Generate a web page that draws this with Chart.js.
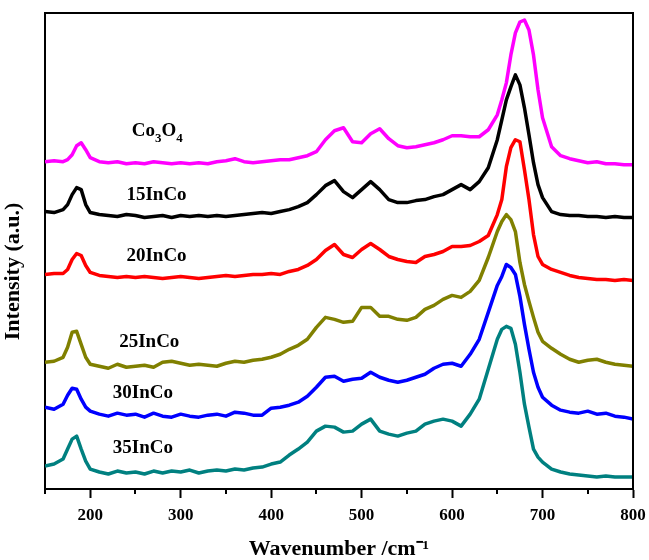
<!DOCTYPE html>
<html>
<head>
<meta charset="utf-8">
<script src="https://cdn.jsdelivr.net/npm/chart.js@4"></script>
<style>
  html, body { margin: 0; padding: 0; background: #fff; }
</style>
</head>
<body>
<canvas id="raman" width="649" height="560"></canvas>
<script>
// Raman shift (cm-1), shared by all spectra
const wavenumbers = [150, 160, 170, 175, 180, 185, 190, 195, 200,
  210, 220, 230, 240, 250, 260, 270, 280, 290, 300,
  310, 320, 330, 340, 350, 360, 370, 380, 390, 400,
  410, 420, 430, 440, 450, 460, 470, 480, 490, 500,
  510, 520, 530, 540, 550, 560, 570, 580, 590, 600,
  610, 620, 630, 640, 650,
  655, 660, 665, 670, 675, 680, 685, 690, 695, 700,
  710, 720, 730, 740, 750, 760, 770, 780, 790, 800];

// intensities (a.u., already stacked with offsets as in the figure)
const co3o4 = [328, 329, 328, 330, 335, 344, 347, 340, 332,
  328, 327, 328, 326, 327, 326, 328, 327, 326, 327,
  326, 327, 326, 328, 329, 331, 328, 327, 328, 329,
  330, 330, 332, 334, 338, 350, 359, 362, 348, 347,
  356, 361, 351, 344, 342, 343, 345, 347, 350, 354,
  354, 353, 353, 360, 375,
  390, 407, 435, 457, 468, 470, 460, 435, 400, 372,
  343, 334, 331, 329, 327, 328, 326, 326, 325, 325];
const inco15 = [278, 277, 280, 285, 295, 302, 300, 285, 277,
  275, 274, 273, 275, 274, 272, 273, 274, 272, 274,
  273, 274, 273, 274, 273, 274, 275, 276, 277, 276,
  278, 280, 283, 287, 295, 304, 309, 298, 292, 300,
  308, 300, 290, 287, 287, 289, 290, 293, 295, 300,
  305, 300, 308, 322, 350,
  370, 390, 403, 415, 405, 382, 355, 327, 305, 292,
  278, 275, 274, 274, 273, 273, 272, 273, 272, 272];
const inco20 = [215, 216, 216, 220, 230, 236, 234, 224, 217,
  214, 213, 212, 213, 212, 213, 212, 211, 212, 213,
  212, 211, 212, 213, 214, 213, 214, 215, 215, 216,
  215, 218, 220, 224, 230, 239, 245, 235, 232, 240,
  246, 240, 233, 230, 228, 227, 233, 235, 238, 243,
  243, 244, 248, 254, 275,
  290, 323, 342, 350, 348, 320, 290, 255, 233, 225,
  220, 217, 214, 212, 211, 210, 210, 209, 210, 209];
const inco25 = [127, 128, 132, 142, 157, 158, 145, 132, 125,
  123, 121, 125, 122, 123, 124, 122, 127, 128, 126,
  124, 125, 124, 123, 126, 128, 127, 129, 130, 132,
  135, 140, 144, 150, 162, 172, 170, 167, 168, 182,
  182, 173, 173, 170, 169, 172, 180, 184, 190, 194,
  192, 198, 209, 232, 258,
  268, 275, 270, 258, 227, 205, 188, 172, 157, 148,
  141, 135, 130, 127, 129, 130, 127, 125, 124, 123];
const inco30 = [82, 80, 85, 94, 101, 100, 90, 82, 78,
  75, 73, 76, 74, 75, 72, 76, 73, 72, 75,
  73, 72, 74, 75, 73, 77, 76, 74, 74, 81,
  82, 84, 87, 93, 102, 112, 113, 108, 110, 111,
  117, 112, 109, 107, 109, 112, 115, 121, 125, 126,
  123, 135, 150, 177, 204,
  213, 225, 222, 215, 193, 165, 140, 117, 102, 92,
  84, 79, 77, 76, 78, 75, 76, 73, 72, 70];
const inco35 = [23, 25, 30, 40, 50, 53, 40, 28, 20,
  17, 15, 18, 16, 17, 15, 18, 16, 18, 17,
  19, 16, 18, 19, 18, 20, 19, 21, 22, 25,
  27, 34, 40, 47, 58, 63, 62, 57, 58, 65,
  70, 58, 55, 53, 56, 58, 65, 68, 70, 68,
  63, 75, 90, 120, 150,
  160, 163, 161, 145, 117, 85, 62, 40, 32, 27,
  20, 17, 15, 14, 13, 12, 13, 12, 12, 12];

const seriesNames = ['Co3O4', '15InCo', '20InCo', '25InCo', '30InCo', '35InCo'];
const seriesValues = [co3o4, inco15, inco20, inco25, inco30, inco35];
const seriesColors = ['#ff00ff', '#000000', '#ff0000', '#808000', '#0000ff', '#008080'];
const majorTicks = [200, 300, 400, 500, 600, 700, 800];
const minorTicks = [150, 250, 350, 450, 550, 650, 750];

// where each curve's name sits: [wavenumber, intensity] of the text's left baseline
const labelAnchors = [[246, 354], [240, 290], [240, 228], [232, 142], [225, 91], [225, 36]];

const serif = 'Liberation Serif, Times New Roman, serif';

var datasets = seriesNames.map(function (name, i) {
  return {
    label: name,
    data: wavenumbers.map(function (w, j) { return { x: w, y: seriesValues[i][j] }; }),
    borderColor: seriesColors[i],
    borderWidth: 3.5,
    pointRadius: 0,
    tension: 0,
    borderJoinStyle: 'round'
  };
});

// box frame, minor ticks, y title and the curve names
var decorations = {
  id: 'decorations',
  afterDraw: function (chart) {
    var ctx = chart.ctx;
    var area = chart.chartArea;
    var xs = chart.scales.x;
    var ys = chart.scales.y;
    ctx.save();
    ctx.strokeStyle = '#000';
    ctx.lineWidth = 2;
    ctx.beginPath();
    ctx.moveTo(area.left, area.top);
    ctx.lineTo(area.right, area.top);
    ctx.lineTo(area.right, area.bottom);
    ctx.stroke();

    minorTicks.forEach(function (v) {
      var px = Math.round(xs.getPixelForValue(v));
      ctx.beginPath();
      ctx.moveTo(px, area.bottom);
      ctx.lineTo(px, area.bottom + 5);
      ctx.stroke();
    });

    ctx.fillStyle = '#000';

    // y title sits a bit below the middle of the axis in the original
    ctx.save();
    ctx.translate(13, ys.getPixelForValue(218));
    ctx.rotate(-Math.PI / 2);
    ctx.textAlign = 'center';
    ctx.textBaseline = 'middle';
    ctx.font = 'bold 22px ' + serif;
    ctx.fillText('Intensity (a.u.)', 0, 0);
    ctx.restore();

    ctx.textBaseline = 'alphabetic';
    ctx.textAlign = 'left';
    seriesNames.forEach(function (name, i) {
      var px = xs.getPixelForValue(labelAnchors[i][0]);
      var py = ys.getPixelForValue(labelAnchors[i][1]);
      if (name === 'Co3O4') {
        // chemical formula with subscripts
        var parts = [['Co', false], ['3', true], ['O', false], ['4', true]];
        parts.forEach(function (p) {
          ctx.font = 'bold ' + (p[1] ? 13 : 19) + 'px ' + serif;
          ctx.fillText(p[0], px, py + (p[1] ? 6 : 0));
          px += ctx.measureText(p[0]).width;
        });
      } else {
        ctx.font = 'bold 19px ' + serif;
        ctx.fillText(name, px, py);
      }
    });
    ctx.restore();
  }
};

var chart = new Chart(document.getElementById('raman'), {
  type: 'line',
  data: { datasets: datasets },
  plugins: [decorations],
  options: {
    responsive: false,
    animation: false,
    layout: { padding: { top: 13, right: 16, left: 0, bottom: 0 } },
    plugins: {
      legend: { display: false },
      tooltip: { enabled: false }
    },
    scales: {
      x: {
        type: 'linear',
        min: 150,
        max: 800,
        afterBuildTicks: function (s) {
          s.ticks = majorTicks.map(function (v) { return { value: v }; });
        },
        afterFit: function (s) {
          s.height = 71;
          s.paddingRight = 0;
        },
        grid: { drawOnChartArea: false, tickLength: 9, tickWidth: 2, tickColor: '#000' },
        border: { color: '#000', width: 2 },
        ticks: {
          color: '#000',
          padding: 7,
          maxRotation: 0,
          font: { family: serif, size: 17, weight: 'bold' }
        },
        title: {
          display: true,
          text: 'Wavenumber /cm⁻¹',
          color: '#000',
          font: { family: serif, size: 22, weight: 'bold', lineHeight: 1 },
          padding: { top: 12, bottom: 0 }
        }
      },
      y: {
        min: 0,
        max: 477,
        afterFit: function (s) { s.width = 45; },
        grid: { display: false },
        border: { color: '#000', width: 2 },
        ticks: { display: false },
        title: { display: false }
      }
    }
  }
});
</script>
</body>
</html>
